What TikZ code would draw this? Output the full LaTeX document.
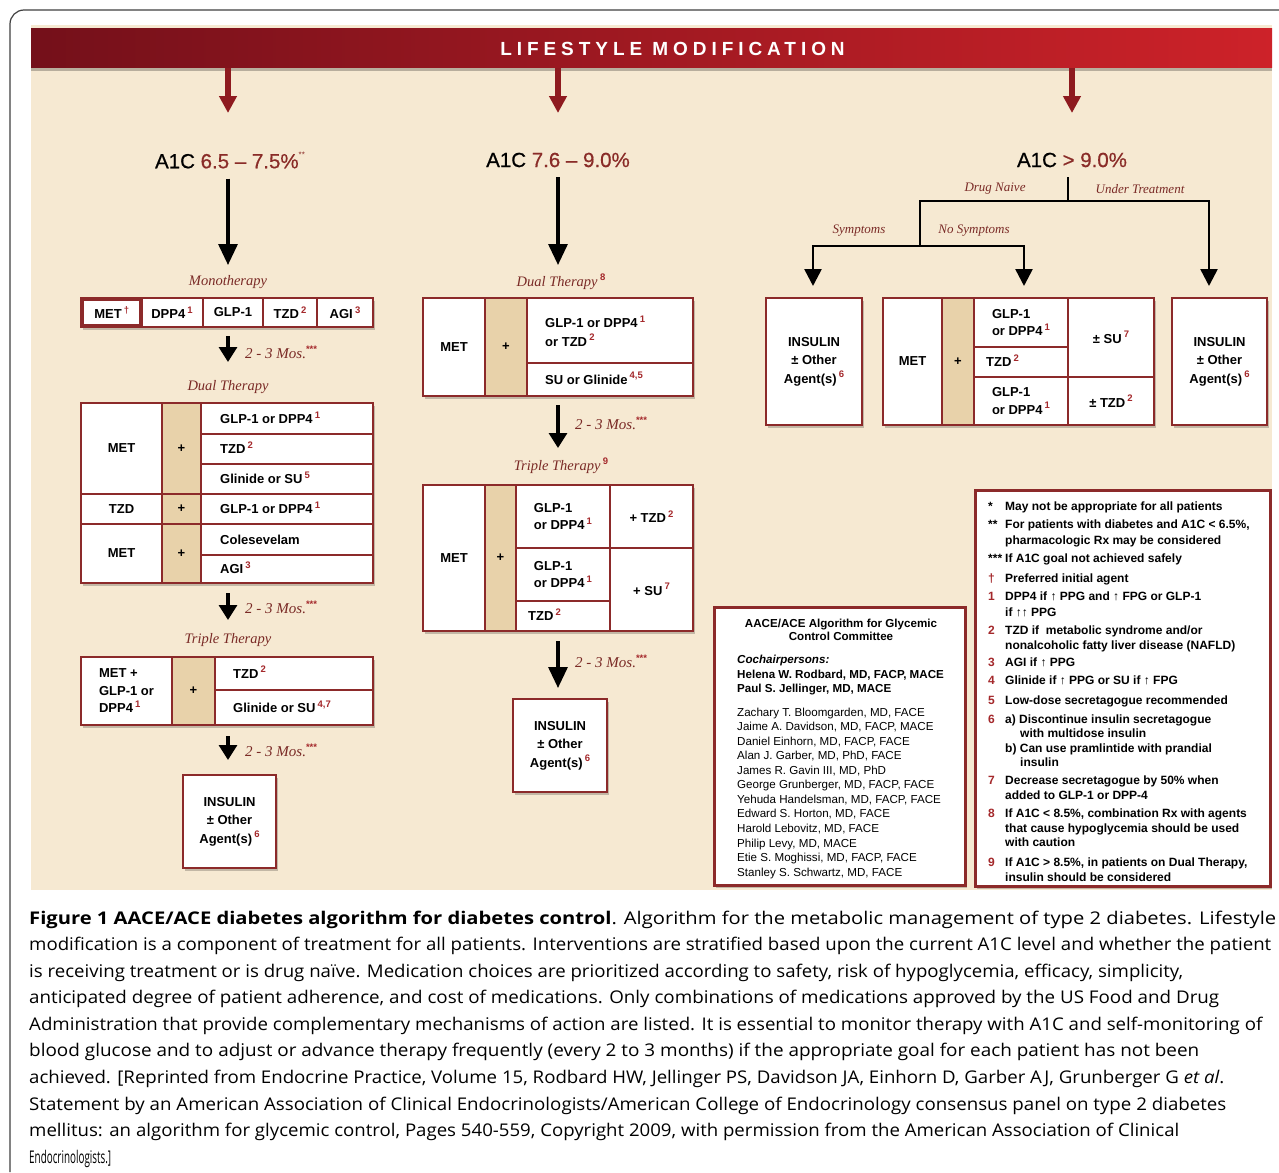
\documentclass[tikz,border=0pt]{standalone}
\usepackage{fontspec}
\usepackage{graphicx}
\setmainfont{Liberation Sans}
\newfontfamily\serf{Liberation Serif}
\newfontfamily\capf{Open Sans}
\newfontfamily\banf[LetterSpace=26]{Liberation Sans Bold}
\newfontfamily\hdf[FakeBold=0.6]{Liberation Sans}
\usetikzlibrary{arrows.meta}
\definecolor{bgcream}{HTML}{F6E9D2}
\definecolor{bandark}{HTML}{74101A}
\definecolor{banlight}{HTML}{CD2229}
\definecolor{arrowred}{HTML}{8E1A1F}
\definecolor{tblred}{HTML}{8C2A2A}
\definecolor{tanfill}{HTML}{E8D2AA}
\definecolor{lblred}{HTML}{7A2A26}
\definecolor{supred}{HTML}{A4282B}
\definecolor{a1cred}{HTML}{8A2C28}
\newcommand\bxf{\fontsize{13}{17.5}\selectfont\bfseries}
\newcommand\lblf{\serf\itshape\fontsize{14.5}{17}\selectfont}
\newcommand\smf{\serf\itshape\fontsize{13}{15}\selectfont}
\newcommand\fnf{\fontsize{12}{14}\selectfont\bfseries}
\newcommand\cmf{\fontsize{11.6}{13.5}\selectfont}
\newcommand\sps[1]{\raisebox{0.42em}{\normalfont\fontsize{9.5}{10}\selectfont\bfseries\color{supred}#1}}
\newcommand\stars[1]{\raisebox{0.55em}{\normalfont\fontsize{8}{8}\selectfont\color{a1cred}#1}}
% cell: [style]{name}{x1}{y1}{x2}{y2}{text}
\newcommand\cel[7][]{\node[cellb,#1,minimum width={#5-#3},minimum height={#6-#4}] (#2) at ({(#3+#5)/2},{(#4+#6)/2}) {#7};}
\newcommand\tbl[5]{\node[tblo,minimum width={#4-#2},minimum height={#5-#3}] (#1) at ({(#2+#4)/2},{(#3+#5)/2}) {};}
\newcommand\capl[4]{\node[capn] (#1) at (29,#2) {\resizebox{#3pt}{\height}{#4}};}
\newcommand\fnk[3]{\node[fnt] (#1) at (988,#2) {#3};}
\newcommand\fnx[4]{\node[fnt] (#1) at (#2,#3) {#4};}
\newcommand\mem[3]{\node[cmt] (#1) at (737,#2) {#3};}
\begin{document}
\begin{tikzpicture}[x=1pt,y=-1pt,
  shd/.style={preaction={fill=black!70!bgcream,opacity=.3,transform canvas={xshift=2pt,yshift=-2.5pt}}},
  cellb/.style={draw=tblred,line width=1.8pt,fill=white,inner sep=0pt,outer sep=0pt,align=center,font=\bxf},
  tblo/.style={draw=tblred,line width=2.2pt,fill=white,inner sep=0pt,outer sep=0pt,shd},
  nbox/.style={draw=tblred,line width=3pt,fill=white,inner sep=0pt,outer sep=0pt,shd},
  txt/.style={inner sep=0pt,font=\bxf,align=left,anchor=base west},
  mtxt/.style={inner sep=0pt,font=\fontsize{13}{18.5}\selectfont\bfseries,align=left,anchor=west},
  lbl/.style={inner sep=0pt,font=\lblf,text=lblred},
  sml/.style={inner sep=0pt,font=\smf,text=lblred},
  mos/.style={inner sep=0pt,font=\serf\itshape\fontsize{15}{17}\selectfont,text=lblred,anchor=west},
  a1c/.style={inner sep=0pt,font=\hdf\fontsize{20.5}{22}\selectfont},
  fnt/.style={inner sep=0pt,font=\fnf,anchor=base west},
  cmt/.style={inner sep=0pt,font=\cmf,anchor=base west},
  capn/.style={inner sep=0pt,font=\capf\fontsize{17.5}{20}\selectfont,anchor=base west},
  bigarrow/.style={line width=3.2pt,-{Triangle[width=19pt,length=21pt]}},
  smallarrow/.style={line width=3.2pt,-{Triangle[width=18pt,length=15pt]}},
  redarrow/.style={line width=6pt,draw=arrowred,-{Triangle[width=17pt,length=17pt]}},
  branch/.style={line width=2.6pt,line cap=rect},
  rarrow/.style={line width=2.6pt,-{Triangle[width=17pt,length=17pt]}},
  banner/.style={inner sep=0pt,left color=bandark,right color=banlight,
    preaction={fill=black,opacity=.25,transform canvas={yshift=-3pt}}},
]
\useasboundingbox (0,0) rectangle (1279,1172);
\fill[white] (0,0) rectangle (1279,1172);
\draw[line width=1.2pt,black!75,rounded corners=14pt] (1279,10) -- (10,10) -- (10,1172);
\fill[bgcream] (31,25) rectangle (1272,890);

% banner
\node[banner,minimum width=1241,minimum height=39] (banner) at (651.5,48.5) {};
\node[inner sep=0pt,text=white,font=\banf\fontsize{19}{19}\selectfont] (bantext) at (672.5,49) {LIFESTYLE MODIFICATION};
\coordinate (rtipL) at (228,113);
\coordinate (rtipM) at (558,113);
\coordinate (rtipR) at (1072,113);
\draw[redarrow] (banner.south -| rtipL) -- (rtipL);
\draw[redarrow] (banner.south -| rtipM) -- (rtipM);
\draw[redarrow] (banner.south -| rtipR) -- (rtipR);

% A1C headings
\node[a1c] (a1cL) at (230,160) {A1C \textcolor{a1cred}{6.5 – 7.5\%}\stars{**}};
\node[a1c] (a1cM) at (558,160) {A1C \textcolor{a1cred}{7.6 – 9.0\%}};
\node[a1c] (a1cR) at (1072,160) {A1C \textcolor{a1cred}{> 9.0\%}};

% ===== left column =====
\coordinate (tipL1) at (228,265);
\draw[bigarrow,shorten <=10pt] (a1cL.south -| tipL1) -- (tipL1);
\node[lbl] (monoL) at (228,282) {Monotherapy};
\tbl{lmono}{81}{298}{373}{327}
\cel{m2}{141}{298}{203}{327}{DPP4\,\sps{1}}
\cel{m3}{203}{298}{263}{327}{GLP-1}
\cel{m4}{263}{298}{317}{327}{TZD\,\sps{2}}
\cel{m5}{317}{298}{373}{327}{AGI\,\sps{3}}
\cel[line width=3.6pt]{m1}{82.5}{299.5}{141}{325.5}{MET\,\sps{†}}

\coordinate (tipL2) at (228,362);
\draw[smallarrow,shorten <=9pt] (lmono.south -| tipL2) -- (tipL2);
\node[mos] (mosL1) at (245,352) {2 - 3 Mos.\sps{***}};
\node[lbl] (dualL) at (228,387) {Dual Therapy};

\tbl{ldual}{81}{403}{373}{583}
\cel{d11}{81}{403}{162}{494}{MET}
\cel[fill=tanfill]{d12}{162}{403}{201}{494}{+}
\cel{d13}{201}{403}{373}{434}{}
\cel{d14}{201}{434}{373}{464}{}
\cel{d15}{201}{464}{373}{494}{}
\cel{d21}{81}{494}{162}{524}{TZD}
\cel[fill=tanfill]{d22}{162}{494}{201}{524}{+}
\cel{d23}{201}{494}{373}{524}{}
\cel{d31}{81}{524}{162}{583}{MET}
\cel[fill=tanfill]{d32}{162}{524}{201}{583}{+}
\cel{d33}{201}{524}{373}{555}{}
\cel{d34}{201}{555}{373}{583}{}
\node[txt] (td13) at (220,423.5) {GLP-1 or DPP4\,\sps{1}};
\node[txt] (td14) at (220,453.5) {TZD\,\sps{2}};
\node[txt] (td15) at (220,483.5) {Glinide or SU\,\sps{5}};
\node[txt] (td23) at (220,513.5) {GLP-1 or DPP4\,\sps{1}};
\node[txt] (td33) at (220,544) {Colesevelam};
\node[txt] (td34) at (220,573.5) {AGI\,\sps{3}};

\coordinate (tipL3) at (228,620);
\draw[smallarrow,shorten <=10pt] (ldual.south -| tipL3) -- (tipL3);
\node[mos] (mosL2) at (245,607) {2 - 3 Mos.\sps{***}};
\node[lbl] (tripL) at (228,640) {Triple Therapy};

\tbl{ltrip}{81}{657}{373}{725}
\cel[align=left]{t11}{81}{657}{172}{725}{MET +\\GLP-1 or\\DPP4\,\sps{1}}
\cel[fill=tanfill]{t12}{172}{657}{215}{725}{+}
\cel{t13}{215}{657}{373}{690}{}
\cel{t14}{215}{690}{373}{725}{}
\node[txt] (tt13) at (233,678) {TZD\,\sps{2}};
\node[txt] (tt14) at (233,712.5) {Glinide or SU\,\sps{4,7}};

\coordinate (tipL4) at (228,760);
\draw[smallarrow,shorten <=11pt] (ltrip.south -| tipL4) -- (tipL4);
\node[mos] (mosL3) at (245,750) {2 - 3 Mos.\sps{***}};
\cel[shd,line width=2.2pt,font=\fontsize{13}{18.5}\selectfont\bfseries]{insL}{183}{775}{276}{868}{INSULIN\\± Other\\Agent(s)\,\sps{6}}

% ===== middle column =====
\coordinate (tipM1) at (558,265);
\draw[bigarrow,shorten <=10pt] (a1cM.south -| tipM1) -- (tipM1);
\node[lbl] (dualM) at (561,282) {Dual Therapy\,\sps{8}};
\tbl{mdual}{423}{298}{693}{396}
\cel{n11}{423}{298}{485}{396}{MET}
\cel[fill=tanfill]{n12}{485}{298}{527}{396}{+}
\cel{n13}{527}{298}{693}{363}{}
\cel{n14}{527}{363}{693}{396}{}
\node[mtxt] (tn13) at (545,331) {GLP-1 or DPP4\,\sps{1}\\or TZD\,\sps{2}};
\node[txt] (tn14) at (545,384) {SU or Glinide\,\sps{4,5}};

\coordinate (tipM2) at (558,448);
\draw[smallarrow,shorten <=9pt] (mdual.south -| tipM2) -- (tipM2);
\node[mos] (mosM1) at (575,423) {2 - 3 Mos.\sps{***}};
\node[lbl] (tripM) at (561,466) {Triple Therapy\,\sps{9}};
\tbl{mtrip}{423}{485}{693}{631}
\cel{p11}{423}{485}{485}{631}{MET}
\cel[fill=tanfill]{p12}{485}{485}{516}{631}{+}
\cel[align=left]{p13}{516}{485}{610}{548}{GLP-1\\or DPP4\,\sps{1}}
\cel[align=left]{p14}{516}{548}{610}{601}{GLP-1\\or DPP4\,\sps{1}}
\cel{p15}{516}{601}{610}{631}{}
\node[txt] (tp15) at (528,620.5) {TZD\,\sps{2}};
\cel{p16}{610}{485}{693}{548}{+ TZD\,\sps{2}}
\cel{p17}{610}{548}{693}{631}{+ SU\,\sps{7}}

\coordinate (tipM3) at (558,688);
\draw[bigarrow,shorten <=10pt] (mtrip.south -| tipM3) -- (tipM3);
\node[mos] (mosM2) at (575,661) {2 - 3 Mos.\sps{***}};
\cel[shd,line width=2.2pt,font=\fontsize{13}{18.5}\selectfont\bfseries]{insM}{513}{699}{607}{792}{INSULIN\\± Other\\Agent(s)\,\sps{6}}

% ===== right column =====
\coordinate (bR0) at (1068,201);
\coordinate (bRl) at (920,201);
\coordinate (bRr) at (1209,201);
\coordinate (bS) at (920,246);
\coordinate (tipR1) at (813,286);
\coordinate (tipR2) at (1024,286);
\coordinate (tipR3) at (1209,286);
\draw[branch,shorten <=11pt] (a1cR.south -| bR0) -- (bR0);
\draw[branch] (bRl) -- (bS);
\draw[rarrow,line cap=rect] (bRl) -- (bRr) -- (tipR3);
\draw[rarrow,line cap=rect] (bS) -| (tipR1);
\draw[rarrow,line cap=rect] (bS) -| (tipR2);
\node[sml] (dnaive) at (995,189) {Drug Naive};
\node[sml] (undtr) at (1140,189) {Under Treatment};
\node[sml] (sympt) at (859,231) {Symptoms};
\node[sml] (nosympt) at (974,231) {No Symptoms};

\cel[shd,line width=2.2pt,font=\fontsize{13}{18.5}\selectfont\bfseries]{insR1}{766}{298}{862}{425}{INSULIN\\± Other\\Agent(s)\,\sps{6}}
\tbl{rtab}{883}{298}{1154}{425}
\cel{r11}{883}{298}{942}{425}{MET}
\cel[fill=tanfill]{r12}{942}{298}{974}{425}{+}
\cel[align=left]{r13}{974}{298}{1068}{347}{GLP-1\\or DPP4\,\sps{1}}
\cel{r14}{974}{347}{1068}{377}{}
\node[txt] (tr14) at (986,366.5) {TZD\,\sps{2}};
\cel[align=left]{r15}{974}{377}{1068}{425}{GLP-1\\or DPP4\,\sps{1}}
\cel{r16}{1068}{298}{1154}{377}{± SU\,\sps{7}}
\cel{r17}{1068}{377}{1154}{425}{± TZD\,\sps{2}}
\cel[shd,line width=2.2pt,font=\fontsize{13}{18.5}\selectfont\bfseries]{insR2}{1172}{298}{1267}{425}{INSULIN\\± Other\\Agent(s)\,\sps{6}}

% ===== committee box =====
\node[nbox,minimum width=251,minimum height=278] (comm) at (839.5,746) {};
\node[inner sep=0pt,font=\cmf\bfseries,align=center] (commT) at (841,630) {AACE/ACE Algorithm for Glycemic\\Control Committee};
\mem{c1}{663.2}{\bfseries\itshape Cochairpersons:}
\mem{c2}{678.2}{\bfseries Helena W. Rodbard, MD, FACP, MACE}
\mem{c3}{692.4}{\bfseries Paul S. Jellinger, MD, MACE}
\mem{c4}{716.0}{Zachary T. Bloomgarden, MD, FACE}
\mem{c5}{730.6}{Jaime A. Davidson, MD, FACP, MACE}
\mem{c6}{745.1}{Daniel Einhorn, MD, FACP, FACE}
\mem{c7}{759.7}{Alan J. Garber, MD, PhD, FACE}
\mem{c8}{774.2}{James R. Gavin III, MD, PhD}
\mem{c9}{788.8}{George Grunberger, MD, FACP, FACE}
\mem{c10}{803.3}{Yehuda Handelsman, MD, FACP, FACE}
\mem{c11}{817.9}{Edward S. Horton, MD, FACE}
\mem{c12}{832.4}{Harold Lebovitz, MD, FACE}
\mem{c13}{847.0}{Philip Levy, MD, MACE}
\mem{c14}{861.5}{Etie S. Moghissi, MD, FACP, FACE}
\mem{c15}{876.1}{Stanley S. Schwartz, MD, FACE}

% ===== footnote box =====
\node[nbox,minimum width=295,minimum height=396] (notes) at (1122.5,688) {};
\fnk{k1}{510}{*}
\fnx{x1}{1005}{510}{May not be appropriate for all patients}
\fnk{k2}{528.6}{**}
\fnx{x2}{1005}{528.6}{For patients with diabetes and A1C < 6.5\%,}
\fnx{x2b}{1005}{544.3}{pharmacologic Rx may be considered}
\fnk{k3}{562}{***}
\fnx{x3}{1005}{562}{If A1C goal not achieved safely}
\fnk{k4}{582}{\color{supred}†}
\fnx{x4}{1005}{582}{Preferred initial agent}
\fnk{k5}{600.3}{\color{supred}1}
\fnx{x5}{1005}{600.3}{DPP4 if ↑ PPG and ↑ FPG or GLP-1}
\fnx{x5b}{1005}{616}{if ↑↑ PPG}
\fnk{k6}{634.3}{\color{supred}2}
\fnx{x6}{1005}{634.3}{TZD if \ metabolic syndrome and/or}
\fnx{x6b}{1005}{649.3}{nonalcoholic fatty liver disease (NAFLD)}
\fnk{k7}{666}{\color{supred}3}
\fnx{x7}{1005}{666}{AGI if ↑ PPG}
\fnk{k8}{684.3}{\color{supred}4}
\fnx{x8}{1005}{684.3}{Glinide if ↑ PPG or SU if ↑ FPG}
\fnk{k9}{704.3}{\color{supred}5}
\fnx{x9}{1005}{704.3}{Low-dose secretagogue recommended}
\fnk{k10}{723.3}{\color{supred}6}
\fnx{x10}{1005}{723.3}{a) Discontinue insulin secretagogue}
\fnx{x10b}{1020}{737.3}{with multidose insulin}
\fnx{x10c}{1005}{752}{b) Can use pramlintide with prandial}
\fnx{x10d}{1020}{766}{insulin}
\fnk{k11}{784.3}{\color{supred}7}
\fnx{x11}{1005}{784.3}{Decrease secretagogue by 50\% when}
\fnx{x11b}{1005}{799.3}{added to GLP-1 or DPP-4}
\fnk{k12}{817.3}{\color{supred}8}
\fnx{x12}{1005}{817.3}{If A1C < 8.5\%, combination Rx with agents}
\fnx{x12b}{1005}{832}{that cause hypoglycemia should be used}
\fnx{x12c}{1005}{846.3}{with caution}
\fnk{k13}{866}{\color{supred}9}
\fnx{x13}{1005}{866}{If A1C > 8.5\%, in patients on Dual Therapy,}
\fnx{x13b}{1005}{881}{insulin should be considered}

% ===== caption =====
\capl{cap1}{924}{1247}{{\bfseries Figure 1 AACE/ACE diabetes algorithm for diabetes control}. Algorithm for the metabolic management of type 2 diabetes. Lifestyle}
\capl{cap2}{950.5}{1242}{modification is a component of treatment for all patients. Interventions are stratified based upon the current A1C level and whether the patient}
\capl{cap3}{977.1}{1154}{is receiving treatment or is drug naïve. Medication choices are prioritized according to safety, risk of hypoglycemia, efficacy, simplicity,}
\capl{cap4}{1003.7}{1190}{anticipated degree of patient adherence, and cost of medications. Only combinations of medications approved by the US Food and Drug}
\capl{cap5}{1030.3}{1233}{Administration that provide complementary mechanisms of action are listed. It is essential to monitor therapy with A1C and self-monitoring of}
\capl{cap6}{1056.9}{1170}{blood glucose and to adjust or advance therapy frequently (every 2 to 3 months) if the appropriate goal for each patient has not been}
\capl{cap7}{1083.5}{1195}{achieved. [Reprinted from Endocrine Practice, Volume 15, Rodbard HW, Jellinger PS, Davidson JA, Einhorn D, Garber AJ, Grunberger G {\itshape et al}.}
\capl{cap8}{1110.1}{1197}{Statement by an American Association of Clinical Endocrinologists/American College of Endocrinology consensus panel on type 2 diabetes}
\capl{cap9}{1136.7}{1150}{mellitus: an algorithm for glycemic control, Pages 540-559, Copyright 2009, with permission from the American Association of Clinical}
\capl{cap10}{1163.3}{82}{Endocrinologists.]}
\end{tikzpicture}
\end{document}
